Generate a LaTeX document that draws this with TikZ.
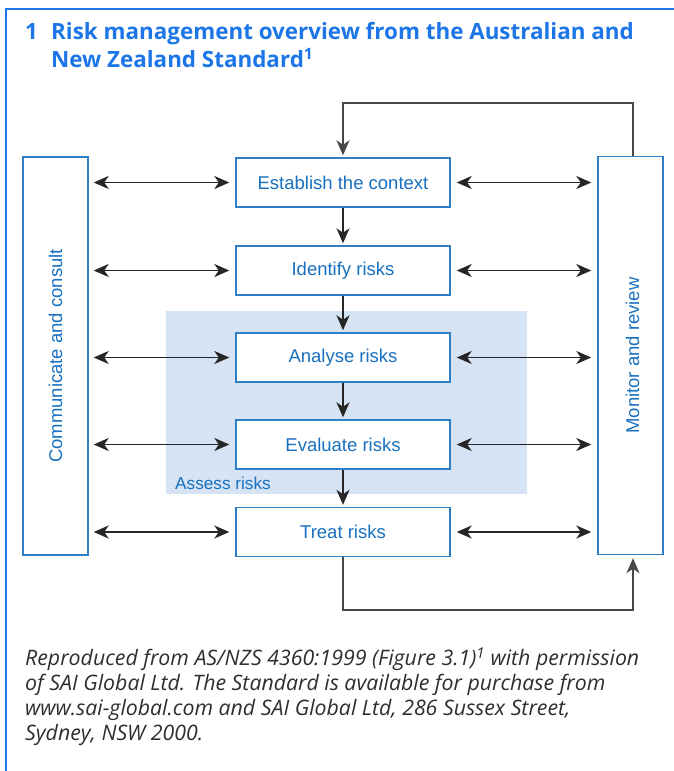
\documentclass[tikz,border=0pt]{standalone}
\usepackage{fontspec}
\setmainfont{Liberation Sans}
\newfontfamily\headfont{Open Sans}
\usetikzlibrary{arrows.meta}

\definecolor{frameblue}{RGB}{28,118,232}
\definecolor{boxblue}{RGB}{45,128,200}
\definecolor{labelblue}{RGB}{24,112,192}
\definecolor{assessfill}{RGB}{213,227,245}
\definecolor{linegray}{RGB}{38,38,38}

\tikzset{
  bigtip/.tip={Stealth[length=15pt,width=13pt,inset=4.5pt]},
  stagebox/.style={draw=boxblue,line width=1.4pt,fill=white,inner sep=0pt,
    minimum width=214pt,minimum height=49pt,text=labelblue,
    font=\fontsize{18.5}{22}\selectfont},
  sidebox/.style={draw=boxblue,line width=1.4pt,fill=white,inner sep=0pt,
    minimum width=65pt,minimum height=398pt},
  sidelabel/.style={rotate=90,text=labelblue,font=\fontsize{18.5}{22}\selectfont},
  flow/.style={-{bigtip},line width=1.8pt,draw=linegray},
  talk/.style={{bigtip}-{bigtip},line width=1.8pt,draw=linegray,
    shorten <=5pt,shorten >=6pt},
  loopline/.style={-{bigtip},line width=1.6pt,draw=linegray!85}
}

\begin{document}
\begin{tikzpicture}[x=1pt,y=-1pt]
  \useasboundingbox (0,0) rectangle (673,771);
  % frame
  \draw[frameblue,line width=2.6pt] (6,790) -- (6,9) -- (690,9);

  % heading
  \node[anchor=base west,text=frameblue,inner sep=0pt,
    font=\headfont\bfseries\fontsize{22.4}{28}\selectfont] (num) at (25,39.5) {1};
  \node[anchor=base west,text=frameblue,inner sep=0pt,align=left,
    font=\headfont\bfseries\fontsize{22.4}{28}\selectfont] (heading) at (51,67.5)
    {Risk management overview from the Australian and\\
     New Zealand Standard\textsuperscript{1}};

  % shaded assessment block
  \fill[assessfill] (166,311) rectangle (527,494);
  \node[anchor=base west,text=labelblue,inner sep=0pt,
    font=\fontsize{17.2}{20}\selectfont] (assess) at (175,489) {Assess risks};

  % process steps
  \node[stagebox] (context)  at (343,182.5) {Establish the context};
  \node[stagebox] (identify) at (343,270.5) {Identify risks};
  \node[stagebox] (analyse)  at (343,357.5) {Analyse risks};
  \node[stagebox] (evaluate) at (343,444.5) {Evaluate risks};
  \node[stagebox] (treat)    at (343,532)   {Treat risks};

  % side columns
  \node[sidebox] (consult) at (55.5,356) {};
  \node[sidelabel] (consulttext) at (consult.center) {Communicate and consult};
  \node[sidebox] (monitor) at (630.5,355.5) {};
  \node[sidelabel] (monitortext) at ([xshift=2pt]monitor.center) {Monitor and review};

  % main flow
  \draw[flow,shorten >=2pt] (context)  -- (identify);
  \draw[flow,shorten >=2pt] (identify) -- (analyse);
  \draw[flow,shorten >=2pt] (analyse)  -- (evaluate);
  \draw[flow,shorten >=2pt] (evaluate) -- (treat);

  % two-way links to the side columns
  \foreach \s in {context,identify,analyse,evaluate,treat}{
    \draw[talk] (consult.east |- \s.west) -- (\s.west);
    \draw[talk,shorten <=6pt] (\s.east) -- (monitor.west |- \s.east);
  }

  % feedback loops
  \coordinate (topturn) at (633,103);
  \coordinate (bottomturn) at (633,610);
  \draw[loopline,shorten >=2pt] (monitor.north -| topturn) -- (topturn)
    -- (topturn -| context.north) -- (context.north);
  \draw[loopline,shorten >=3pt] (treat.south) -- (treat.south |- bottomturn)
    -- (bottomturn) -- (bottomturn |- monitor.south);

  % source note
  \node[anchor=base west,inner sep=0pt,align=left,text=black!82,
    font=\headfont\itshape\fontsize{21.3}{24.7}\selectfont] (source) at (25,740)
    {Reproduced from AS/NZS 4360:1999 (Figure 3.1)\textsuperscript{1} with permission\\
     of SAI Global Ltd. The Standard is available for purchase from\\
     www.sai-global.com and SAI Global Ltd, 286 Sussex Street,\\
     Sydney, NSW 2000.};
\end{tikzpicture}
\end{document}
